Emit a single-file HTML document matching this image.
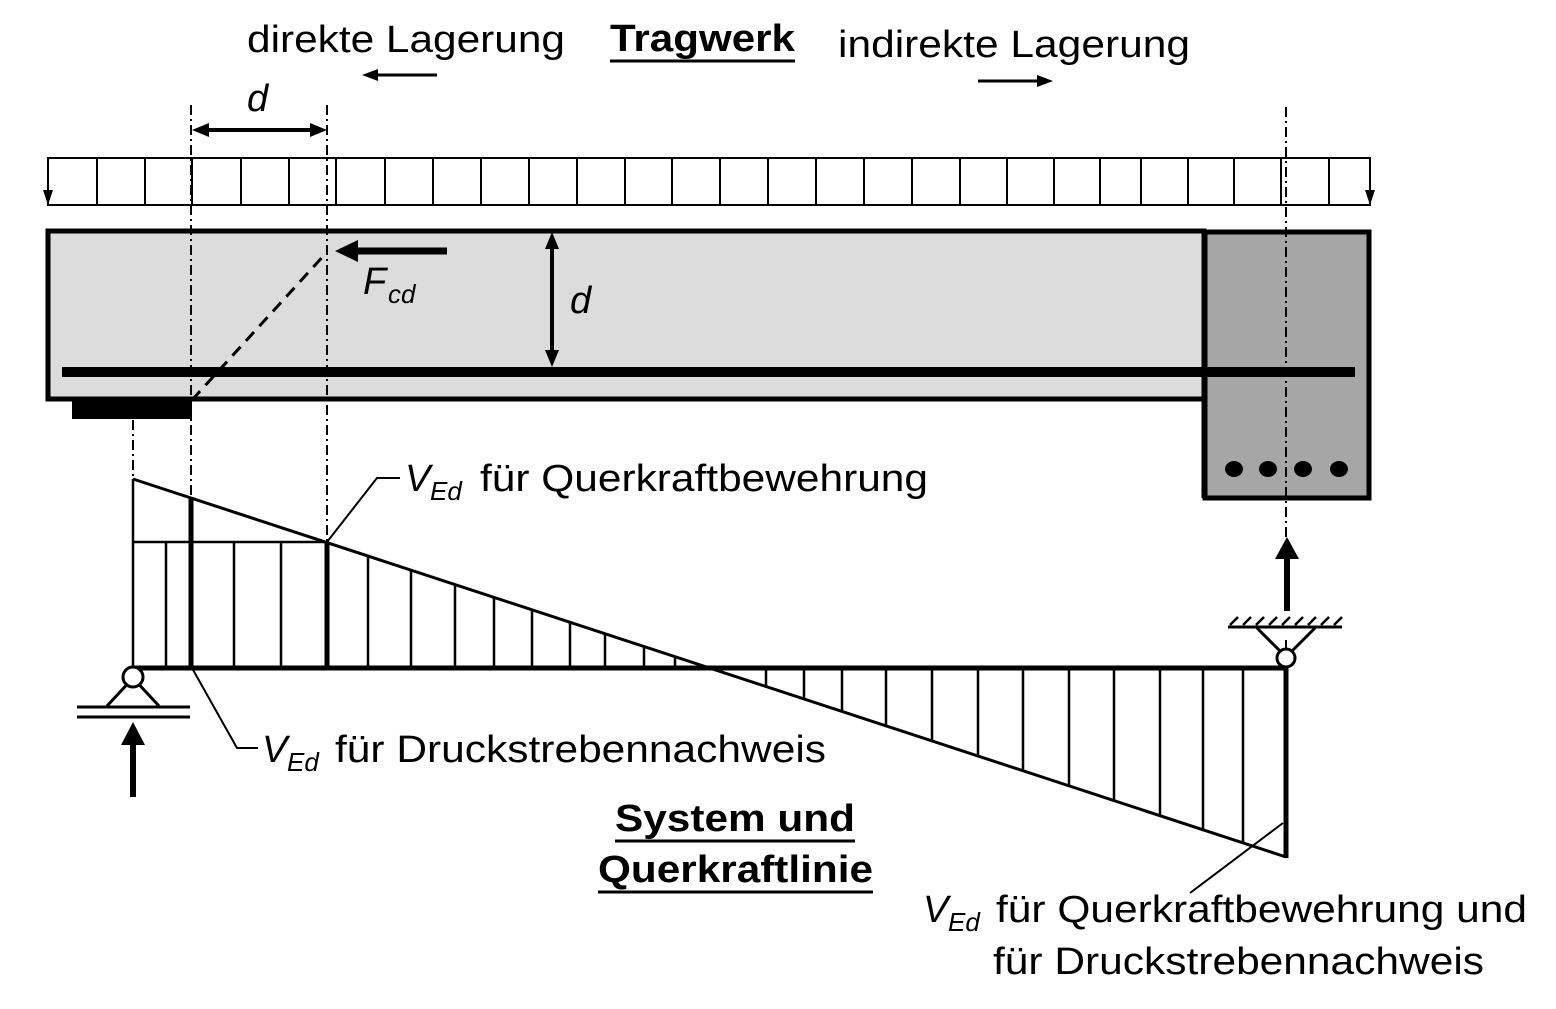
<!DOCTYPE html>
<html><head><meta charset="utf-8"><style>html,body{margin:0;padding:0;background:#fff}</style></head>
<body>
<svg width="1556" height="1004" viewBox="0 0 1556 1004" xmlns="http://www.w3.org/2000/svg" font-family="Liberation Sans, Arial, sans-serif">
<!-- titles -->
<text x="247" y="52" font-size="38" textLength="318" lengthAdjust="spacingAndGlyphs">direkte Lagerung</text>
<text x="610" y="51" font-size="38" font-weight="bold" textLength="185" lengthAdjust="spacingAndGlyphs">Tragwerk</text>
<line x1="610" y1="61" x2="795" y2="61" stroke="#000" stroke-width="3"/>
<text x="838" y="57" font-size="38" textLength="352" lengthAdjust="spacingAndGlyphs">indirekte Lagerung</text>
<line x1="377" y1="75" x2="437" y2="75" stroke="#000" stroke-width="3"/>
<polygon points="362,75 378,69 378,81"/>
<line x1="978" y1="81" x2="1038" y2="81" stroke="#000" stroke-width="3"/>
<polygon points="1053,81 1037,75 1037,87"/>
<text x="247" y="111" font-size="38" font-style="italic">d</text>
<!-- dimension d -->
<line x1="205" y1="130" x2="314" y2="130" stroke="#000" stroke-width="4"/>
<polygon points="192,130 209,123 209,137"/>
<polygon points="327,130 310,123 310,137"/>
<!-- load strip -->
<rect x="48" y="158" width="1322" height="47" fill="none" stroke="#000" stroke-width="2"/>
<g stroke="#000" stroke-width="2">
<line x1="97" y1="158" x2="97" y2="205"/><line x1="145" y1="158" x2="145" y2="205"/><line x1="192" y1="158" x2="192" y2="205"/><line x1="241" y1="158" x2="241" y2="205"/><line x1="289" y1="158" x2="289" y2="205"/><line x1="336" y1="158" x2="336" y2="205"/><line x1="385" y1="158" x2="385" y2="205"/><line x1="433" y1="158" x2="433" y2="205"/><line x1="481" y1="158" x2="481" y2="205"/><line x1="529" y1="158" x2="529" y2="205"/><line x1="577" y1="158" x2="577" y2="205"/><line x1="625" y1="158" x2="625" y2="205"/><line x1="672" y1="158" x2="672" y2="205"/><line x1="720" y1="158" x2="720" y2="205"/><line x1="768" y1="158" x2="768" y2="205"/><line x1="816" y1="158" x2="816" y2="205"/><line x1="864" y1="158" x2="864" y2="205"/><line x1="912" y1="158" x2="912" y2="205"/><line x1="960" y1="158" x2="960" y2="205"/><line x1="1007" y1="158" x2="1007" y2="205"/><line x1="1054" y1="158" x2="1054" y2="205"/><line x1="1100" y1="158" x2="1100" y2="205"/><line x1="1141" y1="158" x2="1141" y2="205"/><line x1="1188" y1="158" x2="1188" y2="205"/><line x1="1234" y1="158" x2="1234" y2="205"/><line x1="1281" y1="158" x2="1281" y2="205"/><line x1="1329" y1="158" x2="1329" y2="205"/>
</g>
<polygon points="48,205 43,190 53,190"/>
<polygon points="1370,205 1365,190 1375,190"/>
<!-- column -->
<rect x="1205" y="232" width="164" height="266" fill="#a6a6a6" stroke="#000" stroke-width="5"/>
<!-- beam -->
<rect x="48" y="231" width="1156" height="168" fill="#dcdcdc" stroke="#000" stroke-width="5"/>
<line x1="1204" y1="231" x2="1204" y2="498" stroke="#000" stroke-width="5"/>
<line x1="62" y1="372" x2="1355" y2="372" stroke="#000" stroke-width="10"/>
<rect x="72" y="400" width="120" height="19" fill="#000"/>
<g fill="#000"><ellipse cx="1234" cy="469" rx="9" ry="8"/><ellipse cx="1268" cy="469" rx="9" ry="8"/><ellipse cx="1303" cy="469" rx="9" ry="8"/><ellipse cx="1339" cy="469" rx="9" ry="8"/></g>
<!-- dash dot lines -->
<g stroke="#000" stroke-width="2" stroke-dasharray="10,4,2,4" fill="none">
<line x1="191" y1="105" x2="191" y2="498"/>
<line x1="327" y1="105" x2="327" y2="542"/>
<line x1="133" y1="420" x2="133" y2="479"/>
<line x1="1286" y1="107" x2="1286" y2="540"/>
<line x1="1286" y1="640" x2="1286" y2="660"/>
</g>
<line x1="192" y1="400" x2="327" y2="252" stroke="#000" stroke-width="3" stroke-dasharray="12,8"/>
<!-- Fcd -->
<line x1="350" y1="251" x2="447" y2="251" stroke="#000" stroke-width="7"/>
<polygon points="335,251 358,240 358,262"/>
<text x="363" y="294" font-size="38" font-style="italic">F</text>
<text x="388" y="303" font-size="26" font-style="italic">cd</text>
<!-- d vertical -->
<line x1="552" y1="245" x2="552" y2="355" stroke="#000" stroke-width="4"/>
<polygon points="552,232 545,249 559,249"/>
<polygon points="552,367 545,350 559,350"/>
<text x="570" y="313" font-size="38" font-style="italic">d</text>
<!-- shear diagram -->
<g stroke="#000" stroke-width="2.5">
<line x1="133" y1="479" x2="1286" y2="857" stroke-width="3"/>
<line x1="133" y1="479" x2="133" y2="668"/>
<line x1="133" y1="542" x2="327" y2="542"/>
<line x1="166" y1="542" x2="166" y2="668"/>
<line x1="234" y1="542" x2="234" y2="668"/>
<line x1="281" y1="542" x2="281" y2="668"/>
<line x1="368" y1="556" x2="368" y2="668"/>
<line x1="411" y1="570" x2="411" y2="668"/>
<line x1="455" y1="585" x2="455" y2="668"/>
<line x1="494" y1="597" x2="494" y2="668"/>
<line x1="532" y1="610" x2="532" y2="668"/>
<line x1="570" y1="622" x2="570" y2="668"/>
<line x1="605" y1="634" x2="605" y2="668"/>
<line x1="644" y1="646" x2="644" y2="668"/>
<line x1="675" y1="657" x2="675" y2="668"/>
<line x1="766" y1="668" x2="766" y2="686"/>
<line x1="804" y1="668" x2="804" y2="699"/>
<line x1="842" y1="668" x2="842" y2="711"/>
<line x1="886" y1="668" x2="886" y2="726"/>
<line x1="932" y1="668" x2="932" y2="741"/>
<line x1="978" y1="668" x2="978" y2="756"/>
<line x1="1023" y1="668" x2="1023" y2="771"/>
<line x1="1069" y1="668" x2="1069" y2="786"/>
<line x1="1114" y1="668" x2="1114" y2="800"/>
<line x1="1160" y1="668" x2="1160" y2="816"/>
<line x1="1203" y1="668" x2="1203" y2="830"/>
<line x1="1243" y1="668" x2="1243" y2="843"/>
</g>
<line x1="191" y1="497" x2="191" y2="668" stroke="#000" stroke-width="5"/>
<line x1="327" y1="542" x2="327" y2="668" stroke="#000" stroke-width="5"/>
<line x1="133" y1="668" x2="1286" y2="668" stroke="#000" stroke-width="5"/>
<line x1="1286" y1="666" x2="1286" y2="858" stroke="#000" stroke-width="5"/>
<!-- left support -->
<g stroke="#000" stroke-width="3" fill="none">
<polyline points="107,706 133,678 159,706"/>
<line x1="77" y1="707" x2="190" y2="707"/>
<line x1="77" y1="717" x2="190" y2="717"/>
</g>
<circle cx="133" cy="677" r="10" fill="#fff" stroke="#000" stroke-width="3"/>
<line x1="133" y1="735" x2="133" y2="797" stroke="#000" stroke-width="6"/>
<polygon points="133,722 121,745 145,745"/>
<!-- right support -->
<g stroke="#000" stroke-width="3" fill="none">
<line x1="1228" y1="627" x2="1342" y2="627"/>
<polyline points="1257,628 1280,651"/><polyline points="1315,628 1292,651"/>
</g>
<g stroke="#000" stroke-width="2.5">
<line x1="1230" y1="625" x2="1238" y2="617"/><line x1="1243" y1="625" x2="1251" y2="617"/><line x1="1256" y1="625" x2="1264" y2="617"/><line x1="1269" y1="625" x2="1277" y2="617"/><line x1="1282" y1="625" x2="1290" y2="617"/><line x1="1295" y1="625" x2="1303" y2="617"/><line x1="1308" y1="625" x2="1316" y2="617"/><line x1="1321" y1="625" x2="1329" y2="617"/><line x1="1334" y1="625" x2="1342" y2="617"/>
</g>
<ellipse cx="1286" cy="658" rx="9" ry="9" fill="#fff" stroke="#000" stroke-width="3"/>
<line x1="1287" y1="555" x2="1287" y2="611" stroke="#000" stroke-width="6"/>
<polygon points="1287,537 1275,559 1299,559"/>
<!-- leaders -->
<g stroke="#000" stroke-width="2" fill="none">
<polyline points="327,542 377,478 400,478"/>
<polyline points="192,668 237,748 258,748"/>
<line x1="1283" y1="823" x2="1190" y2="893"/>
</g>
<!-- labels -->
<text x="405" y="491" font-size="38" font-style="italic">V</text>
<text x="430" y="500" font-size="26" font-style="italic">Ed</text>
<text x="480" y="491" font-size="38" textLength="448" lengthAdjust="spacingAndGlyphs">für Querkraftbewehrung</text>
<text x="262" y="762" font-size="38" font-style="italic">V</text>
<text x="287" y="771" font-size="26" font-style="italic">Ed</text>
<text x="335" y="762" font-size="38" textLength="491" lengthAdjust="spacingAndGlyphs">für Druckstrebennachweis</text>
<text x="615" y="831" font-size="38" font-weight="bold" textLength="240" lengthAdjust="spacingAndGlyphs">System und</text>
<line x1="615" y1="841" x2="855" y2="841" stroke="#000" stroke-width="3"/>
<text x="598" y="882" font-size="38" font-weight="bold" textLength="275" lengthAdjust="spacingAndGlyphs">Querkraftlinie</text>
<line x1="598" y1="892" x2="873" y2="892" stroke="#000" stroke-width="3"/>
<text x="923" y="922" font-size="38" font-style="italic">V</text>
<text x="948" y="931" font-size="26" font-style="italic">Ed</text>
<text x="996" y="922" font-size="38" textLength="531" lengthAdjust="spacingAndGlyphs">für Querkraftbewehrung und</text>
<text x="993" y="974" font-size="38" textLength="491" lengthAdjust="spacingAndGlyphs">für Druckstrebennachweis</text>
</svg>
</body></html>
